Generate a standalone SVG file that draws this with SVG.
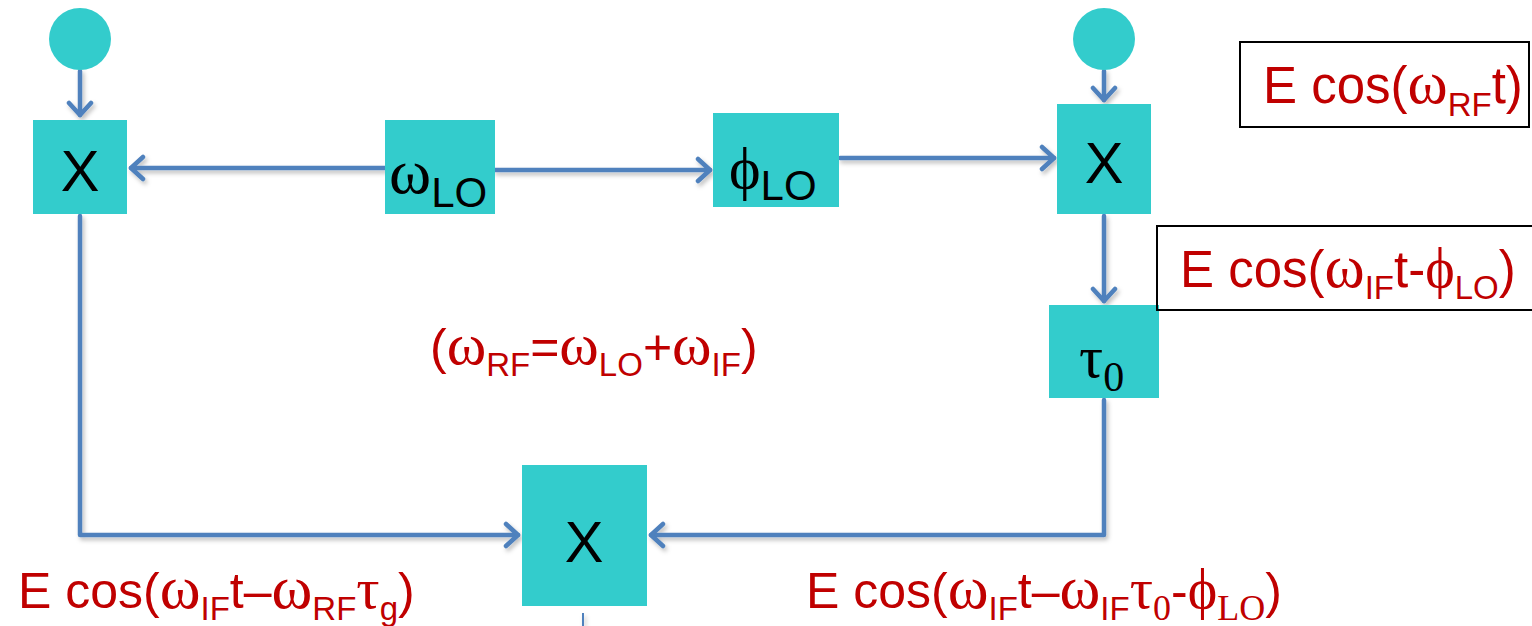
<svg xmlns="http://www.w3.org/2000/svg" width="1532" height="626" viewBox="0 0 1532 626">
<defs>
<style>
.node{fill:#33CCCC}
.lbl{font-family:"Liberation Sans",Arial,sans-serif;fill:#000}
.g{font-family:"Liberation Serif","Times New Roman",serif}
.red{font-family:"Liberation Sans",Arial,sans-serif;fill:#C00000}
.conn{stroke:#4F81BD;stroke-width:4.5;fill:none;stroke-linecap:round;stroke-linejoin:round}
.tbox{fill:none;stroke:#000;stroke-width:2}
</style>
<marker id="ah" viewBox="-15 -14 18 28" refX="0" refY="0" markerWidth="18" markerHeight="28" markerUnits="userSpaceOnUse" orient="auto">
<path d="M-12,-11 L0,0 L-12,11" fill="none" stroke="#4F81BD" stroke-width="4.5" stroke-linecap="round" stroke-linejoin="round"/>
</marker>
<filter id="sh" x="-5%" y="-5%" width="110%" height="110%">
<feDropShadow dx="2" dy="3" stdDeviation="2" flood-color="#000" flood-opacity="0.25"/>
</filter>
</defs>
<rect width="1532" height="626" fill="#fff"/>

<g id="connectors" filter="url(#sh)">
<path class="conn" d="M80,71 L80,115" marker-end="url(#ah)"/>
<path class="conn" d="M385,168 L131,168" marker-end="url(#ah)"/>
<path class="conn" d="M495,170 L710,170" marker-end="url(#ah)"/>
<path class="conn" d="M840,158 L1054,158" marker-end="url(#ah)"/>
<path class="conn" d="M1104,71 L1104,100" marker-end="url(#ah)"/>
<path class="conn" d="M1104,216 L1104,301" marker-end="url(#ah)"/>
<path class="conn" d="M1104,400 L1104,535 L651,535" marker-end="url(#ah)"/>
<path class="conn" d="M80,216 L80,535 L518,535" marker-end="url(#ah)"/>
<path d="M583,613 L583,626" stroke="#4F81BD" stroke-width="2" fill="none"/>
</g>

<g id="src-left"><circle class="node" cx="80" cy="39" r="31"/></g>
<g id="src-right"><circle class="node" cx="1104" cy="39" r="31"/></g>

<g id="mix-left">
<rect class="node" x="33" y="120" width="94" height="94"/>
<text class="lbl" x="80" y="191" font-size="58" text-anchor="middle">X</text>
</g>
<g id="lo">
<rect class="node" x="385" y="120" width="110" height="94"/>
<text class="lbl" x="389" y="193" font-size="64"><tspan class="g">ω</tspan><tspan font-size="42" dy="14">LO</tspan></text>
</g>
<g id="phi">
<rect class="node" x="713" y="113" width="126" height="94"/>
<text class="lbl" x="729" y="188" font-size="60"><tspan class="g">ϕ</tspan><tspan font-size="42" dy="12">LO</tspan></text>
</g>
<g id="mix-right">
<rect class="node" x="1057" y="104" width="94" height="110"/>
<text class="lbl" x="1104" y="183" font-size="58" text-anchor="middle">X</text>
</g>
<g id="tau">
<rect class="node" x="1049" y="305" width="110" height="93"/>
<text class="g" x="1079" y="377" font-size="60" fill="#000">τ<tspan font-size="42" dy="14">0</tspan></text>
</g>
<g id="mix-bottom">
<rect class="node" x="522" y="465" width="125" height="141"/>
<text class="lbl" x="584" y="562" font-size="58" text-anchor="middle">X</text>
</g>

<g id="label-rf">
<rect class="tbox" x="1240" y="42" width="289" height="85"/>
<text class="red" x="1263" y="103" font-size="51">E cos(<tspan class="g" font-size="61">ω</tspan><tspan font-size="33" dy="13">RF</tspan><tspan dy="-13">t)</tspan></text>
</g>
<g id="label-if">
<rect class="tbox" x="1157" y="226" width="400" height="84"/>
<text class="red" x="1180" y="287" font-size="51">E cos(<tspan class="g" font-size="61">ω</tspan><tspan font-size="33" dy="12">IF</tspan><tspan dy="-12">t-</tspan><tspan class="g" font-size="56">ϕ</tspan><tspan font-size="33" dy="12">LO</tspan><tspan dy="-12">)</tspan></text>
</g>
<g id="label-rel">
<text class="red" x="430" y="364" font-size="50">(<tspan class="g" font-size="60">ω</tspan><tspan font-size="33" dy="12">RF</tspan><tspan dy="-12">=</tspan><tspan class="g" font-size="60">ω</tspan><tspan font-size="33" dy="12">LO</tspan><tspan dy="-12">+</tspan><tspan class="g" font-size="60">ω</tspan><tspan font-size="33" dy="12">IF</tspan><tspan dy="-12">)</tspan></text>
</g>
<g id="label-bl">
<text class="red" x="18" y="608" font-size="50">E cos(<tspan class="g" font-size="62">ω</tspan><tspan font-size="33" dy="12">IF</tspan><tspan dy="-12">t–</tspan><tspan class="g" font-size="62">ω</tspan><tspan font-size="33" dy="12">RF</tspan><tspan class="g" font-size="58" dy="-12">τ</tspan><tspan font-size="33" dy="12">g</tspan><tspan dy="-12">)</tspan></text>
</g>
<g id="label-br">
<text class="red" x="806" y="608" font-size="50">E cos(<tspan class="g" font-size="62">ω</tspan><tspan font-size="33" dy="12">IF</tspan><tspan dy="-12">t–</tspan><tspan class="g" font-size="62">ω</tspan><tspan font-size="33" dy="12">IF</tspan><tspan class="g" font-size="58" dy="-12">τ</tspan><tspan class="g" font-size="36" dy="12">0</tspan><tspan dy="-12">-</tspan><tspan class="g" font-size="56">ϕ</tspan><tspan class="g" font-size="36" dy="12">LO</tspan><tspan dy="-12">)</tspan></text>
</g>
</svg>
